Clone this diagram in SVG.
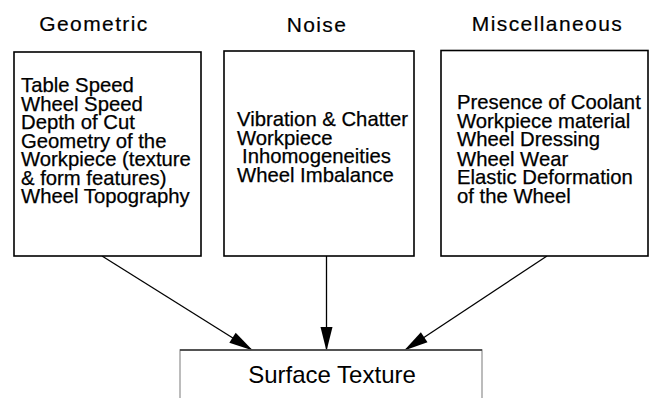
<svg xmlns="http://www.w3.org/2000/svg" width="650" height="398" viewBox="0 0 650 398">
<style>
.t{font-family:"Liberation Sans",Arial,sans-serif;font-size:21px;letter-spacing:1.4px;fill:#000;stroke:#000;stroke-width:0.2;text-anchor:middle}
.b{font-family:"Liberation Sans",Arial,sans-serif;font-size:20.3px;fill:#000;stroke:#000;stroke-width:0.25}
.box{fill:#fff;stroke:#000;stroke-width:1.6}
.c{stroke:#000;stroke-width:1.3;fill:none}
</style>
<defs>
<marker id="ah" viewBox="0 0 24 12" refX="23" refY="6" markerWidth="24" markerHeight="12" markerUnits="userSpaceOnUse" orient="auto" overflow="visible">
<path d="M0,0 L24,6 L0,12 Z" fill="#000"/>
</marker>
</defs>
<g id="connectors">
<line class="c" x1="102" y1="256" x2="252" y2="350" marker-end="url(#ah)"/>
<line class="c" x1="326.5" y1="256" x2="326.5" y2="350" marker-end="url(#ah)"/>
<line class="c" x1="547" y1="256" x2="405" y2="350" marker-end="url(#ah)"/>
</g>
<g id="geometric">
<text class="t" x="94" y="31">Geometric</text>
<rect class="box" x="14" y="52" width="187" height="204"/>
<text class="b" x="21" y="92">Table Speed</text>
<text class="b" x="21" y="110.5">Wheel Speed</text>
<text class="b" x="21" y="129">Depth of Cut</text>
<text class="b" x="21" y="147.5">Geometry of the</text>
<text class="b" x="21" y="166">Workpiece (texture</text>
<text class="b" x="21" y="184.5">&amp; form features)</text>
<text class="b" x="21" y="203">Wheel Topography</text>
</g>
<g id="noise">
<text class="t" x="317" y="32">Noise</text>
<rect class="box" x="224" y="51" width="190" height="205"/>
<text class="b" x="237" y="126">Vibration &amp; Chatter</text>
<text class="b" x="237" y="144.5">Workpiece</text>
<text class="b" x="242" y="163">Inhomogeneities</text>
<text class="b" x="237" y="181.5">Wheel Imbalance</text>
</g>
<g id="misc">
<text class="t" x="547.5" y="31">Miscellaneous</text>
<rect class="box" x="441" y="50.5" width="207" height="205.5"/>
<text class="b" x="457" y="109">Presence of Coolant</text>
<text class="b" x="457" y="127.5">Workpiece material</text>
<text class="b" x="457" y="146">Wheel Dressing</text>
<text class="b" x="457" y="165.5">Wheel Wear</text>
<text class="b" x="457" y="184">Elastic Deformation</text>
<text class="b" x="457" y="202.5">of the Wheel</text>
</g>
<g id="surface">
<path d="M180,398 V350 H482 V398" fill="#fff" stroke="#999" stroke-width="1.3"/>
<line x1="180" y1="350" x2="482" y2="350" stroke="#333" stroke-width="1.3"/>
<text x="332" y="383" style="font-family:'Liberation Sans',Arial,sans-serif;font-size:24px;fill:#000;text-anchor:middle">Surface Texture</text>
</g>
</svg>
